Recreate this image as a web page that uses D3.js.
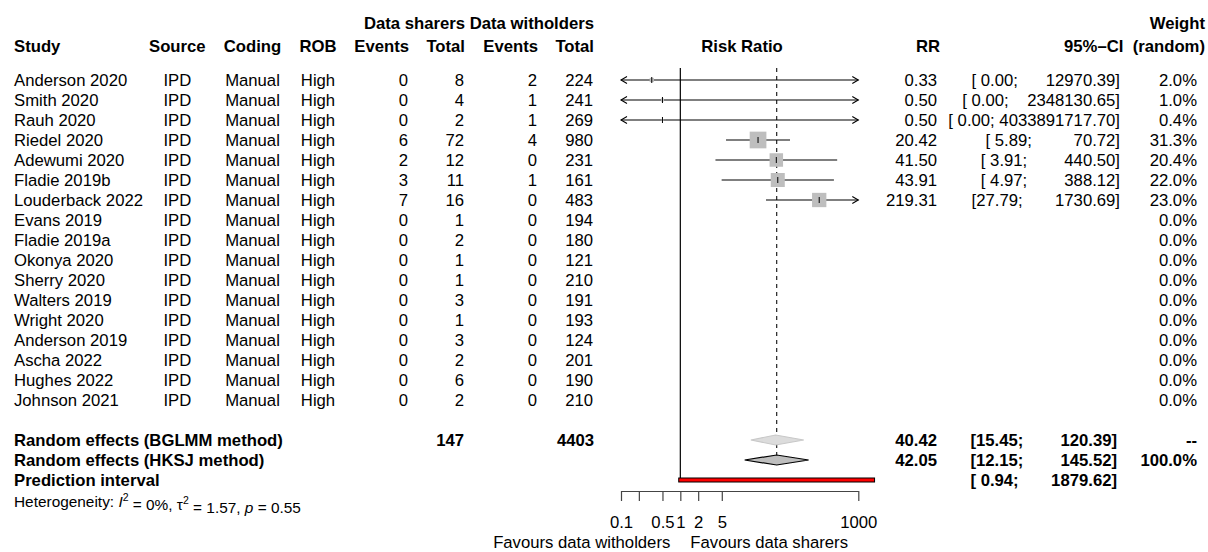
<!DOCTYPE html>
<html><head><meta charset="utf-8">
<script src="https://cdn.jsdelivr.net/npm/d3@7"></script>
<style>
html,body{margin:0;padding:0;background:#fff;}
svg text{font-family:"Liberation Sans",Arial,Helvetica,sans-serif;white-space:pre;}
</style></head>
<body><svg id="c" width="1208" height="552"></svg>
<script>
// ---- data ----
const studies = ["Anderson 2020","Smith 2020","Rauh 2020","Riedel 2020","Adewumi 2020","Fladie 2019b","Louderback 2022","Evans 2019","Fladie 2019a","Okonya 2020","Sherry 2020","Walters 2019","Wright 2020","Anderson 2019","Ascha 2022","Hughes 2022","Johnson 2021"];
const source = Array(17).fill("IPD");
const coding = Array(17).fill("Manual");
const rob = Array(17).fill("High");
const eventsSharers = [0,0,0,6,2,3,7,0,0,0,0,0,0,0,0,0,0];
const totalSharers  = [8,4,2,72,12,11,16,1,2,1,1,3,1,3,2,6,2];
const eventsWith    = [2,1,1,4,0,1,0,0,0,0,0,0,0,0,0,0,0];
const totalWith     = [224,241,269,980,231,161,483,194,180,121,210,191,193,124,201,190,210];
const rr    = [0.33,0.50,0.50,20.42,41.50,43.91,219.31,null,null,null,null,null,null,null,null,null,null];
const lower = [0.00,0.00,0.00,5.89,3.91,4.97,27.79,null,null,null,null,null,null,null,null,null,null];
const upper = [12970.39,2348130.65,4033891717.70,70.72,440.50,388.12,1730.69,null,null,null,null,null,null,null,null,null,null];
const weight = [2.0,1.0,0.4,31.3,20.4,22.0,23.0,0,0,0,0,0,0,0,0,0,0];

const summaryLabels = ["Random effects (BGLMM method)","Random effects (HKSJ method)","Prediction interval"];
const summaryRR    = [40.42,42.05,null];
const summaryLower = [15.45,12.15,0.94];
const summaryUpper = [120.39,145.52,1879.62];
const summaryWeight = ["--","100.0%",""];
const totalEventsSharers = 147, totalEventsWith = 4403;

const tickValues = [0.1,0.2,0.5,1,2,5,1000];
const tickLabels = ["0.1","","0.5","1","2","5","1000"];

// ---- layout ----
const FS = 16.7;
const svg = d3.select("#c");
const x = d3.scaleLog().domain([0.1,1000]).range([621,858.3]);
const y = d3.scaleLinear().domain([0,1]).range([80,100]);
const sq = d3.scaleSqrt().domain([0,d3.max(weight)]).range([0,16.7]);

function txt(xp, yp, s, anchor, bold, size){
  return svg.append("text").attr("x",xp).attr("y",yp).attr("dy","0.35em")
    .attr("text-anchor",anchor||"start").attr("font-size",size||FS)
    .attr("font-weight",bold?"bold":"normal").text(s);
}
function padL(s,w){ while(s.length<w) s=" "+s; return s; }
function ciStr(lo,hi){ return "[" + padL(lo.toFixed(2),5) + "; " + padL(hi.toFixed(2),13) + "]"; }

// headers
const h1 = 23, h2 = 46;
txt(465,h1,"Data sharers","end",true);
txt(594,h1,"Data witholders","end",true);
txt(1205,h1,"Weight","end",true);
txt(14,h2,"Study","start",true);
txt(177.3,h2,"Source","middle",true);
txt(252.5,h2,"Coding","middle",true);
txt(318,h2,"ROB","middle",true);
txt(409,h2,"Events","end",true);
txt(465,h2,"Total","end",true);
txt(538,h2,"Events","end",true);
txt(594,h2,"Total","end",true);
txt(742,h2,"Risk Ratio","middle",true);
txt(940,h2,"RR","end",true);
txt(1205,h2,"95%\u2013CI  (random)","end",true);

// study rows
studies.forEach((s,i)=>{
  const yy = y(i);
  txt(14,yy,s,"start");
  txt(177.3,yy,source[i],"middle");
  txt(252.5,yy,coding[i],"middle");
  txt(318,yy,rob[i],"middle");
  txt(408,yy,String(eventsSharers[i]),"end");
  txt(464,yy,String(totalSharers[i]),"end");
  txt(537,yy,String(eventsWith[i]),"end");
  txt(593,yy,String(totalWith[i]),"end");
  if(rr[i]!==null){
    txt(937,yy,rr[i].toFixed(2),"end");
    txt(1120,yy,ciStr(lower[i],upper[i]),"end");
  }
  txt(1197,yy,weight[i].toFixed(1)+"%","end");
});

// reference lines
const yTop = 68;
svg.append("line").attr("x1",x(1)).attr("x2",x(1)).attr("y1",yTop).attr("y2",y(20))
  .attr("stroke","#000").attr("stroke-width",1.2);
svg.append("line").attr("x1",x(summaryRR[1])).attr("x2",x(summaryRR[1])).attr("y1",yTop).attr("y2",y(19)-5)
  .attr("stroke","#333").attr("stroke-width",1.3).attr("stroke-dasharray","4,4");

// CI lines, squares
const [xmin,xmax] = x.range();
studies.forEach((s,i)=>{
  if(rr[i]===null) return;
  const yy = y(i);
  const lo = lower[i] < 0.1 ? xmin : x(lower[i]);
  const hi = upper[i] > 1000 ? xmax : x(upper[i]);
  svg.append("line").attr("x1",lo).attr("x2",hi).attr("y1",yy).attr("y2",yy)
    .attr("stroke","#000").attr("stroke-width",1.2);
  if(lower[i] < 0.1){
    svg.append("path").attr("d",`M${xmin+6},${yy-3.5}L${xmin},${yy}L${xmin+6},${yy+3.5}`)
      .attr("fill","none").attr("stroke","#000").attr("stroke-width",1.1);
  }
  if(upper[i] > 1000){
    svg.append("path").attr("d",`M${xmax-6},${yy-3.5}L${xmax},${yy}L${xmax-6},${yy+3.5}`)
      .attr("fill","none").attr("stroke","#000").attr("stroke-width",1.1);
  }
  const sz = sq(weight[i]);
  svg.append("rect").attr("x",x(rr[i])-sz/2).attr("y",yy-sz/2).attr("width",sz).attr("height",sz)
    .attr("fill","#bebebe");
  svg.append("line").attr("x1",x(rr[i])).attr("x2",x(rr[i])).attr("y1",yy-3).attr("y2",yy+3)
    .attr("stroke","#000").attr("stroke-width",1);
});

// summary rows
summaryLabels.forEach((s,k)=>{
  const yy = y(18+k);
  txt(14,yy,s,"start",true);
  if(summaryRR[k]!==null) txt(937,yy,summaryRR[k].toFixed(2),"end",true);
  txt(1117,yy,ciStr(summaryLower[k],summaryUpper[k]),"end",true);
  txt(1197,yy,summaryWeight[k],"end",true);
});
txt(464,y(18),String(totalEventsSharers),"end",true);
txt(594,y(18),String(totalEventsWith),"end",true);

function diamond(k, fill, stroke){
  const yy = y(18+k);
  const pts = [[x(summaryLower[k]),yy],[x(summaryRR[k]),yy-5],[x(summaryUpper[k]),yy],[x(summaryRR[k]),yy+5]];
  svg.append("path").attr("d","M"+pts.map(p=>p.join(",")).join("L")+"Z")
    .attr("fill",fill).attr("stroke",stroke).attr("stroke-width",1.2);
}
diamond(0,"#dcdcdc","#c8c8c8");
diamond(1,"#bebebe","#000");

// prediction interval bar
svg.append("rect").attr("x",x(summaryLower[2])).attr("y",y(20)-2).attr("width",x(summaryUpper[2])-x(summaryLower[2]))
  .attr("height",4).attr("fill","#ff0000").attr("stroke","#000").attr("stroke-width",1);

// heterogeneity
const het = svg.append("text").attr("x",14).attr("y",y(21)+2).attr("dy","0.35em").attr("font-size",15.4);
het.append("tspan").text("Heterogeneity: ");
het.append("tspan").attr("font-style","italic").text("I");
het.append("tspan").attr("font-size",10.5).attr("dy","-0.6em").text("2");
het.append("tspan").attr("dy","0.6em").text(" = 0%, \u03c4");
het.append("tspan").attr("font-size",10.5).attr("dy","-0.6em").text("2");
het.append("tspan").attr("dy","0.6em").text(" = 1.57, ");
het.append("tspan").attr("font-style","italic").text("p");
het.append("tspan").text(" = 0.55");

// axis
const axisY = 491;
const ax = d3.axisBottom(x).tickValues(tickValues).tickFormat((d,i)=>tickLabels[i])
  .tickSizeInner(10).tickSizeOuter(0).tickPadding(15);
const g = svg.append("g").attr("transform",`translate(0,${axisY})`).call(ax);
g.select(".domain").attr("stroke","#444").attr("stroke-width",1.2);
g.selectAll(".tick line").attr("stroke","#444").attr("stroke-width",1.2);
g.selectAll(".tick text").attr("font-size",FS).attr("fill","#000")
  .attr("font-family","Liberation Sans,Arial,Helvetica,sans-serif");

txt(x(1)-10,542,"Favours data witholders","end",false,FS);
txt(x(1)+10,542,"Favours data sharers","start",false,FS);
</script></body></html>
